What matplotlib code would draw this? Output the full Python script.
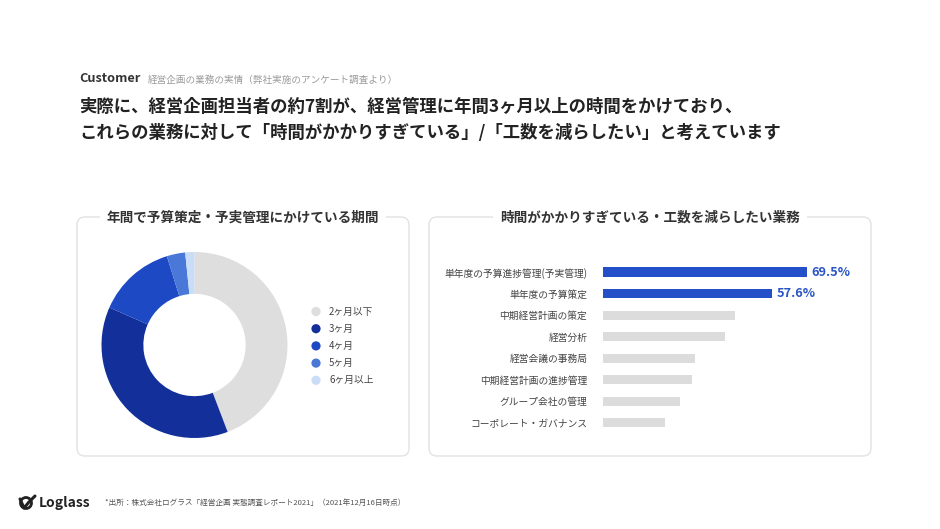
import matplotlib
matplotlib.use("Agg")
import matplotlib.pyplot as plt
from matplotlib.patches import FancyBboxPatch, Circle
import numpy as np

plt.rcParams['font.family'] = ['Noto Sans CJK JP', 'DejaVu Sans']

# ---- data ----
period_labels = ["2ヶ月以下", "3ヶ月", "4ヶ月", "5ヶ月", "6ヶ月以上"]
period_values = [44.2, 37.4, 13.6, 3.2, 1.6]
period_colors = ["#dedede", "#13309a", "#1e49c4", "#4a78d8", "#c9ddf6"]

task_labels = ["単年度の予算進捗管理(予実管理)", "単年度の予算策定", "中期経営計画の策定", "経営分析",
               "経営会議の事務局", "中期経営計画の進捗管理", "グループ会社の管理", "コーポレート・ガバナンス"]
task_values = [69.5, 57.6, 45.0, 41.4, 31.3, 30.4, 26.3, 21.0]
task_highlight = [True, True, False, False, False, False, False, False]

header_tag = "Customer"
header_sub = "経営企画の業務の実情（弊社実施のアンケート調査より）"
title_lines = ["実際に、経営企画担当者の約7割が、経営管理に年間3ヶ月以上の時間をかけており、",
               "これらの業務に対して「時間がかかりすぎている」/「工数を減らしたい」と考えています"]
left_title = "年間で予算策定・予実管理にかけている期間"
right_title = "時間がかかりすぎている・工数を減らしたい業務"
footnote = "*出所：株式会社ログラス「経営企画 実態調査レポート2021」（2021年12月16日時点）"

W, H = 940, 529
fig = plt.figure(figsize=(W / 100, H / 100), dpi=100)
fig.patch.set_facecolor("white")

bg = fig.add_axes([0, 0, 1, 1])
bg.set_xlim(0, W)
bg.set_ylim(H, 0)
bg.axis("off")

def fr(x0, y0, x1, y1):
    return [x0 / W, 1 - y1 / H, (x1 - x0) / W, (y1 - y0) / H]

# header
bg.text(79, 79, header_tag, fontsize=9.2, fontweight="bold", color="#333333",
        va="center", ha="left")
bg.text(148, 80, header_sub, fontsize=6.9, color="#9a9a9a", va="center", ha="left")
bg.text(79, 107, title_lines[0], fontsize=12.5, fontweight="bold", color="#222222", va="center", ha="left")
bg.text(79, 133, title_lines[1], fontsize=12.5, fontweight="bold", color="#222222", va="center", ha="left")

# panels
for (x0, x1, t) in [(77, 409, left_title), (429, 871, right_title)]:
    box = FancyBboxPatch((x0, 217), x1 - x0, 456 - 217, boxstyle="round,pad=0,rounding_size=8",
                         linewidth=1.0, edgecolor="#e2e2e2", facecolor="white", zorder=1)
    bg.add_patch(box)
    bg.text((x0 + x1) / 2, 218, t, fontsize=9.8, fontweight="bold", color="#333333",
            ha="center", va="center", zorder=3,
            bbox=dict(facecolor="white", edgecolor="none", pad=5))

# donut
cx, cy, R = 194.5, 345, 93
dax = fig.add_axes(fr(cx - R, cy - R, cx + R, cy + R))
dax.pie(period_values, colors=period_colors, startangle=90, counterclock=False,
        radius=1.0, wedgeprops=dict(width=0.45, linewidth=0))
dax.set_xlim(-1, 1)
dax.set_ylim(-1, 1)
dax.set_aspect("equal")
dax.axis("off")

# legend
ly0, ldy = 311.5, 17.2
for i, (lab, col) in enumerate(zip(period_labels, period_colors)):
    y = ly0 + i * ldy
    bg.add_patch(Circle((316, y), 4.6, facecolor=col, edgecolor="none", zorder=3))
    bg.text(329, y, lab, fontsize=7.0, color="#444444", va="center", ha="left", zorder=3)

# bar chart
spacing = 21.53
first_y = 272.0
n = len(task_values)
px_per = 2.93
bx0 = 603.3
xmax = 90
bax = fig.add_axes(fr(bx0, first_y - spacing / 2, bx0 + xmax * px_per, first_y + spacing * (n - 0.5)))
ypos = np.arange(n)
cols = ["#2350c8" if h else "#dcdcdc" for h in task_highlight]
bax.barh(ypos, task_values, height=0.42, color=cols, linewidth=0)
bax.set_xlim(0, xmax)
bax.set_ylim(n - 0.5, -0.5)
bax.set_yticks(ypos)
bax.set_yticklabels(task_labels, fontsize=7.0, color="#444444")
bax.tick_params(axis="y", length=0, pad=11.5)
bax.set_xticks([])
for s in bax.spines.values():
    s.set_visible(False)
bax.patch.set_alpha(0)
for i, (v, h) in enumerate(zip(task_values, task_highlight)):
    if h:
        bax.text(v + 1.6, i, f"{v:.1f}%", fontsize=9.2, fontweight="bold", color="#2a55c4",
                 va="center", ha="left")

# footer logo
lx, ly = 20, 503
bg.plot([lx, lx + 4, lx + 9, lx + 15], [ly - 4, ly + 5, ly - 1, ly - 7], color="#222222", lw=2.2,
        solid_capstyle="round")
bg.add_patch(Circle((lx + 6, ly), 5.5, facecolor="none", edgecolor="#222222", lw=2.0))
bg.text(39, 503, "Loglass", fontsize=10, fontweight="bold", color="#222222",
        va="center", ha="left")
bg.text(105, 503, footnote, fontsize=5.5, color="#555555", va="center", ha="left")

fig.savefig("out.png", dpi=100, facecolor="white")
